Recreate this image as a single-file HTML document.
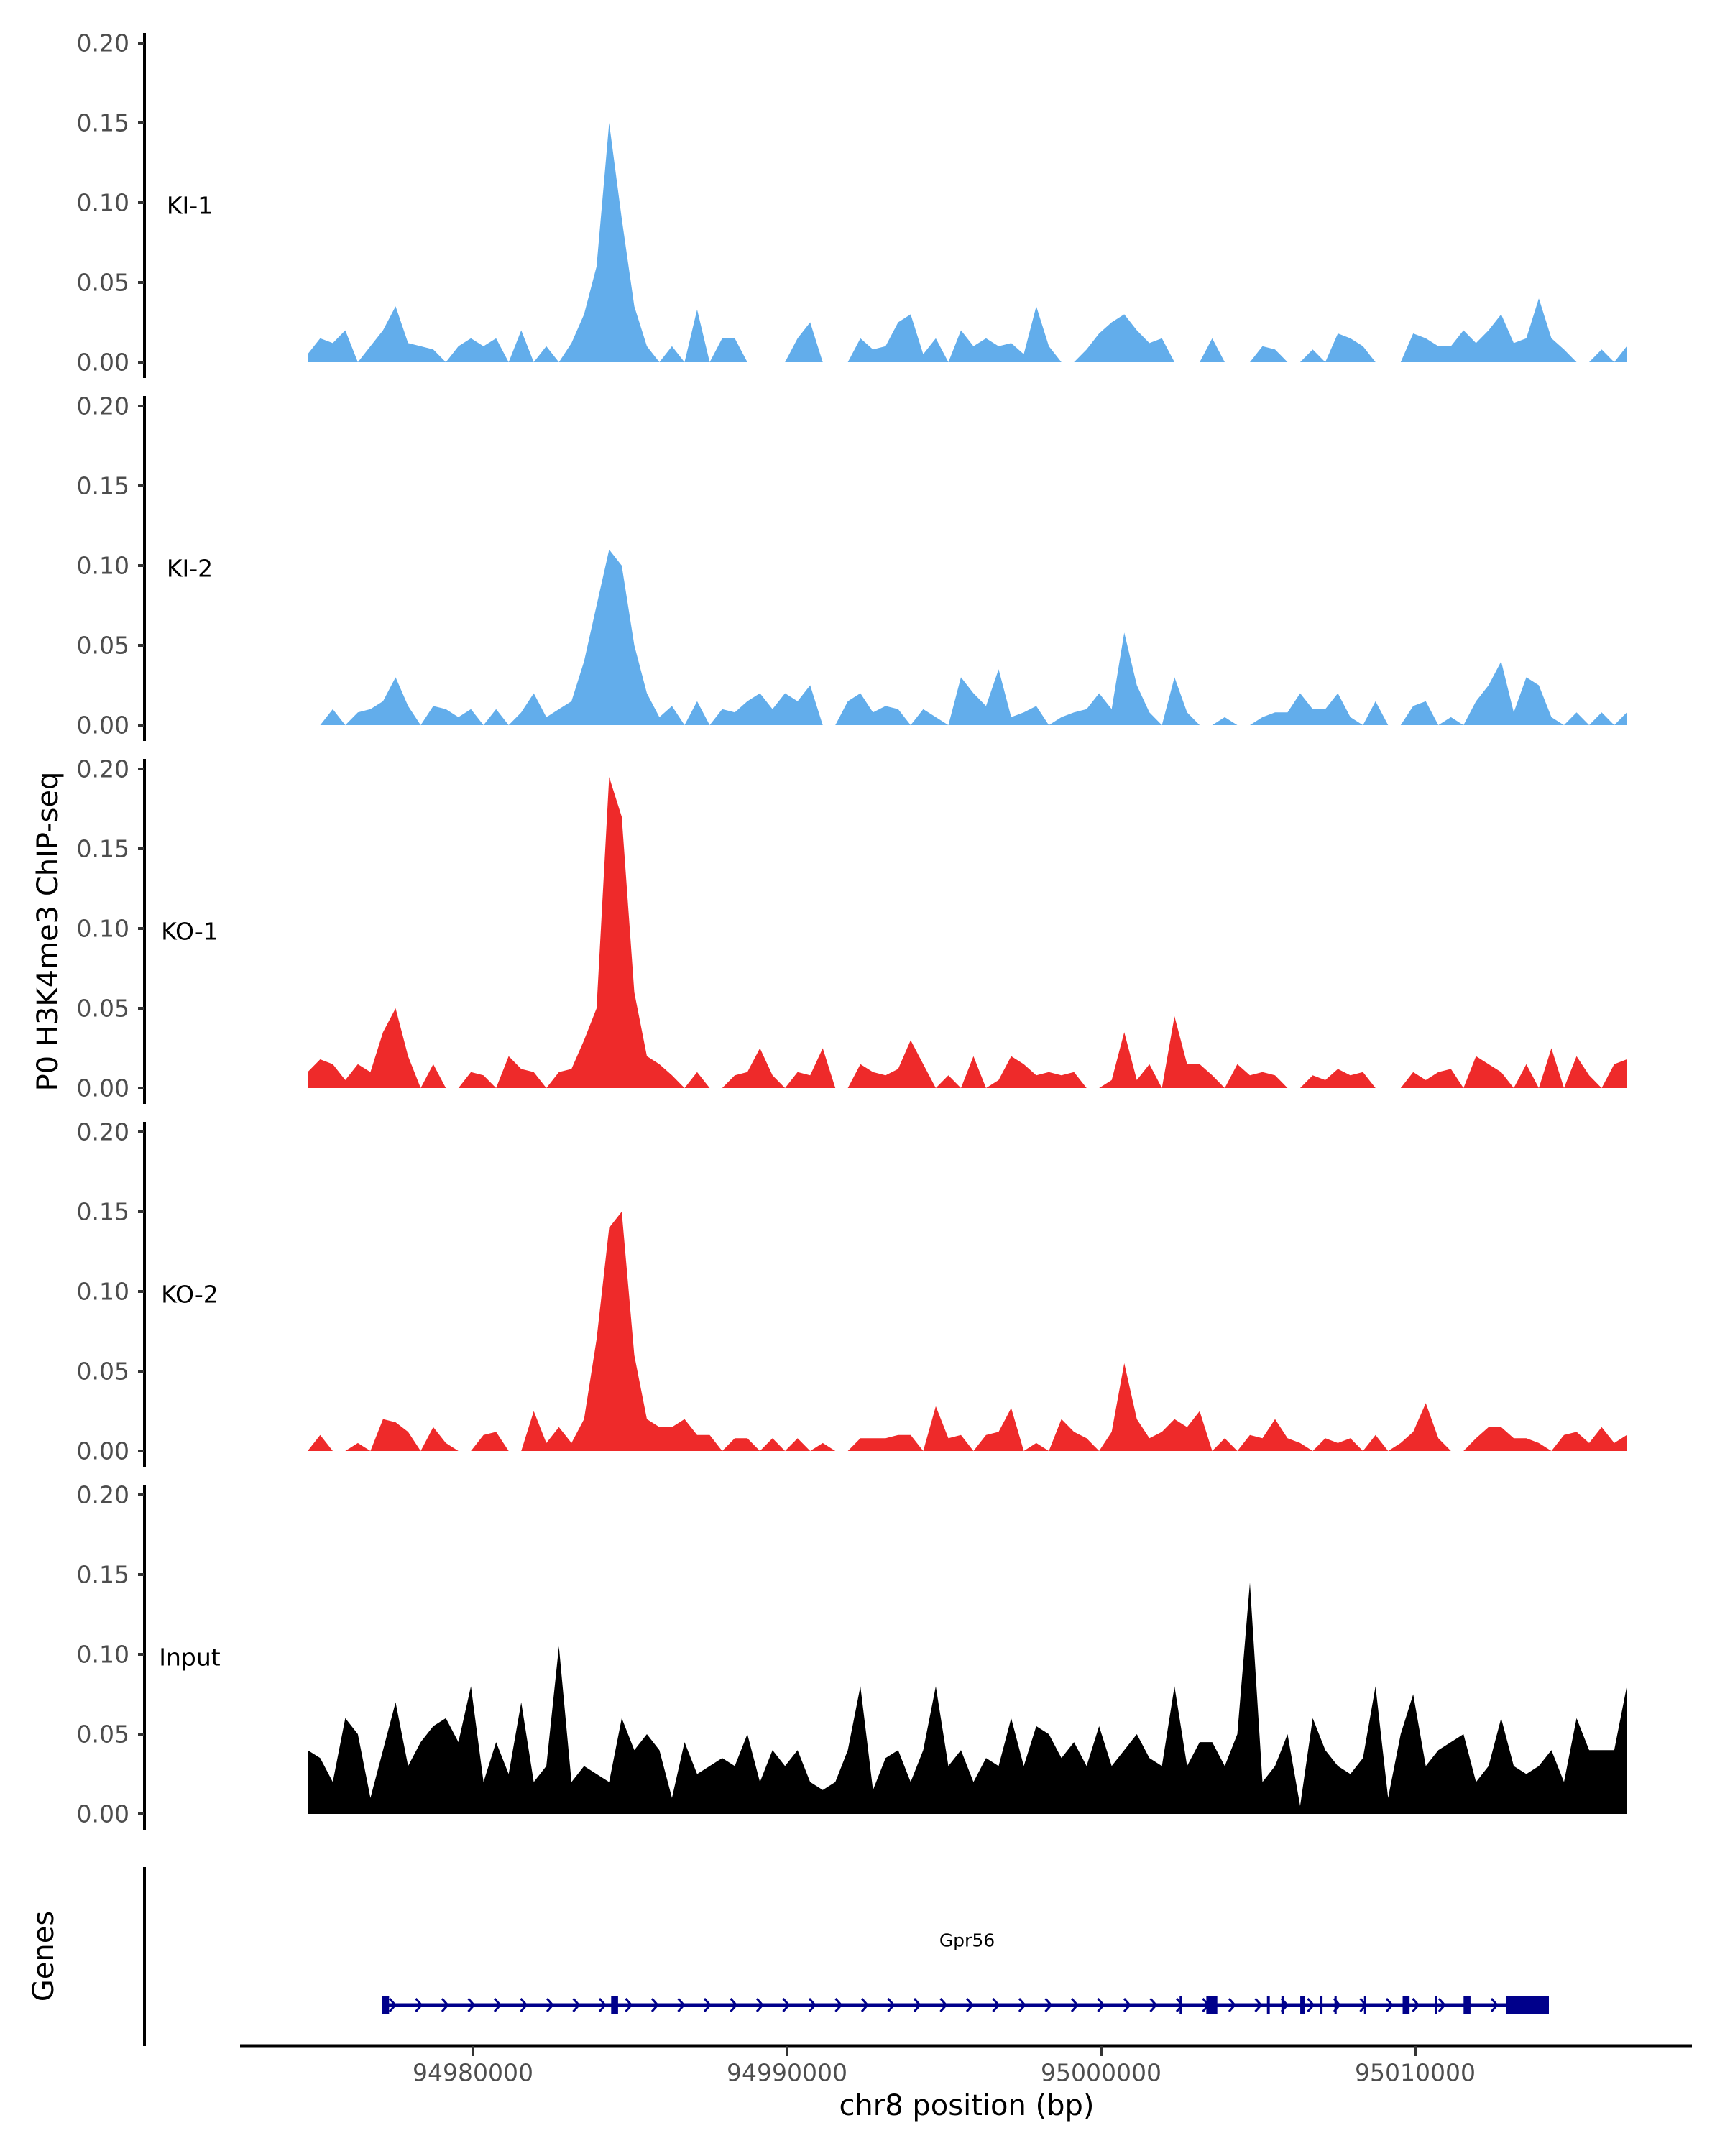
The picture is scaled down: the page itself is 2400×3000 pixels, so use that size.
<!DOCTYPE html>
<html><head><meta charset="utf-8"><style>
html,body{margin:0;padding:0;background:#fff}
svg{display:block;font-family:"DejaVu Sans","Liberation Sans",sans-serif}
</style></head><body>
<svg id="chart" width="2400" height="3000" viewBox="0 0 2400 3000" xmlns="http://www.w3.org/2000/svg">
<text x="67" y="1296" font-size="40" text-anchor="middle" dominant-baseline="central" transform="rotate(-90 67 1296)">P0 H3K4me3 ChIP-seq</text>
<text x="61" y="2722" font-size="40" text-anchor="middle" dominant-baseline="central" transform="rotate(-90 61 2722)">Genes</text>
<line x1="201" y1="2598" x2="201" y2="2847" stroke="#000" stroke-width="4"/>
<line x1="334" y1="2847" x2="2354" y2="2847" stroke="#000" stroke-width="5"/>
<text x="1345" y="2930" font-size="40" text-anchor="middle" dominant-baseline="central">chr8 position (bp)</text>
<g id="tracks"></g>
<g id="xaxis"></g>
<g id="gene"></g>
</svg>
<script>
const binStart = 94974737;
const binStep = 400;
const trackNames = ["KI-1","KI-2","KO-1","KO-2","Input"];
const trackColors = ["#62adeb","#62adeb","#ee2a2a","#ee2a2a","#000000"];
const yTicks = [0, 0.05, 0.10, 0.15, 0.20];
const yTickLabels = ["0.00","0.05","0.10","0.15","0.20"];
const xTicks = [94980000, 94990000, 95000000, 95010000];
const xTickLabels = ["94980000","94990000","95000000","95010000"];
const ki1 = [0.005,0.015,0.012,0.02,0,0.01,0.02,0.035,0.012,0.01,0.008,0,0.01,0.015,0.01,0.015,0,0.02,0,0.01,0,0.012,0.03,0.06,0.15,0.09,0.035,0.01,0,0.01,0,0.033,0,0.015,0.015,0,0,0,0,0.015,0.025,0,0,0,0.015,0.008,0.01,0.025,0.03,0.005,0.015,0,0.02,0.01,0.015,0.01,0.012,0.005,0.035,0.01,0,0,0.008,0.018,0.025,0.03,0.02,0.012,0.015,0,0,0,0.015,0,0,0,0.01,0.008,0,0,0.008,0,0.018,0.015,0.01,0,0,0,0.018,0.015,0.01,0.01,0.02,0.012,0.02,0.03,0.012,0.015,0.04,0.015,0.008,0,0,0.008,0,0.01];
const ki2 = [0,0,0.01,0,0.008,0.01,0.015,0.03,0.012,0,0.012,0.01,0.005,0.01,0,0.01,0,0.008,0.02,0.005,0.01,0.015,0.04,0.075,0.11,0.1,0.05,0.02,0.005,0.012,0,0.015,0,0.01,0.008,0.015,0.02,0.01,0.02,0.015,0.025,0,0,0.015,0.02,0.008,0.012,0.01,0,0.01,0.005,0,0.03,0.02,0.012,0.035,0.005,0.008,0.012,0,0.005,0.008,0.01,0.02,0.01,0.058,0.025,0.008,0,0.03,0.008,0,0,0.005,0,0,0.005,0.008,0.008,0.02,0.01,0.01,0.02,0.005,0,0.015,0,0,0.012,0.015,0,0.005,0,0.015,0.025,0.04,0.008,0.03,0.025,0.005,0,0.008,0,0.008,0,0.008];
const ko1 = [0.01,0.018,0.015,0.005,0.015,0.01,0.035,0.05,0.02,0,0.015,0,0,0.01,0.008,0,0.02,0.012,0.01,0,0.01,0.012,0.03,0.05,0.195,0.17,0.06,0.02,0.015,0.008,0,0.01,0,0,0.008,0.01,0.025,0.008,0,0.01,0.008,0.025,0,0,0.015,0.01,0.008,0.012,0.03,0.015,0,0.008,0,0.02,0,0.005,0.02,0.015,0.008,0.01,0.008,0.01,0,0,0.005,0.035,0.005,0.015,0,0.045,0.015,0.015,0.008,0,0.015,0.008,0.01,0.008,0,0,0.008,0.005,0.012,0.008,0.01,0,0,0,0.01,0.005,0.01,0.012,0,0.02,0.015,0.01,0,0.015,0,0.025,0,0.02,0.008,0,0.015,0.018];
const ko2 = [0,0.01,0,0,0.005,0,0.02,0.018,0.012,0,0.015,0.005,0,0,0.01,0.012,0,0,0.025,0.005,0.015,0.005,0.02,0.07,0.14,0.15,0.06,0.02,0.015,0.015,0.02,0.01,0.01,0,0.008,0.008,0,0.008,0,0.008,0,0.005,0,0,0.008,0.008,0.008,0.01,0.01,0,0.028,0.008,0.01,0,0.01,0.012,0.027,0,0.005,0,0.02,0.012,0.008,0,0.012,0.055,0.02,0.008,0.012,0.02,0.015,0.025,0,0.008,0,0.01,0.008,0.02,0.008,0.005,0,0.008,0.005,0.008,0,0.01,0,0.005,0.012,0.03,0.008,0,0,0.008,0.015,0.015,0.008,0.008,0.005,0,0.01,0.012,0.005,0.015,0.005,0.01];
const input = [0.04,0.035,0.02,0.06,0.05,0.01,0.04,0.07,0.03,0.045,0.055,0.06,0.045,0.08,0.02,0.045,0.025,0.07,0.02,0.03,0.105,0.02,0.03,0.025,0.02,0.06,0.04,0.05,0.04,0.01,0.045,0.025,0.03,0.035,0.03,0.05,0.02,0.04,0.03,0.04,0.02,0.015,0.02,0.04,0.08,0.015,0.035,0.04,0.02,0.04,0.08,0.03,0.04,0.02,0.035,0.03,0.06,0.03,0.055,0.05,0.035,0.045,0.03,0.055,0.03,0.04,0.05,0.035,0.03,0.08,0.03,0.045,0.045,0.03,0.05,0.145,0.02,0.03,0.05,0.005,0.06,0.04,0.03,0.025,0.035,0.08,0.01,0.05,0.075,0.03,0.04,0.045,0.05,0.02,0.03,0.06,0.03,0.025,0.03,0.04,0.02,0.06,0.04,0.04,0.04,0.08];
const trackValues = [ki1, ki2, ko1, ko2, input];
const geneName = "Gpr56";
const geneStart = 94977208;
const geneEnd = 95014256;
const exonStarts = [94977100,94984400,95002500,95003350,95005280,95005740,95006340,95006960,95007430,95008370,95009600,95010630,95011540,95012883];
const exonEnds =   [94977330,94984620,95002560,95003700,95005370,95005830,95006480,95007050,95007500,95008430,95009820,95010700,95011760,95014256];

const NS = "http://www.w3.org/2000/svg";
function mk(tag, attrs, parent){const e=document.createElementNS(NS,tag);for(const k in attrs)e.setAttribute(k,attrs[k]);parent.appendChild(e);return e;}
function xScale(bp){return 658 + (bp - 94980000) * 437 / 10000;}
function yScale(v, k){const y0 = 504 + 505 * k; return y0 - v * 444 / 0.2;}

const tracks = document.getElementById('tracks');
trackNames.forEach((name, k) => {
  const g = mk('g', {}, tracks);
  
  
  const axis = mk('line', {x1:201, y1:yScale(0.2,k)-14, x2:201, y2:yScale(0,k)+22, stroke:'#000','stroke-width':4}, g);
  
  
  yTicks.forEach((t, i) => {
    const y = yScale(t, k);
    const tk = mk('line', {x1:192, y1:y, x2:201, y2:y, stroke:'#333','stroke-width':4}, g);
    
    
    const tl = mk('text', {x:180, y:y, 'font-size':33, fill:'#4d4d4d', 'text-anchor':'end', 'dominant-baseline':'central'}, g);
    tl.textContent = yTickLabels[i];
    
    
  });
  const lab = mk('text', {x:264, y:yScale(0.1,k)+4, 'font-size':33, fill:'#000', 'text-anchor':'middle', 'dominant-baseline':'central'}, g);
  lab.textContent = name;
  
  
  const vals = trackValues[k];
  let d = 'M' + xScale(binStart) + ',' + yScale(0,k);
  vals.forEach((v, i) => { d += ' L' + xScale(binStart + i*binStep).toFixed(1) + ',' + yScale(v,k).toFixed(1); });
  d += ' L' + xScale(binStart + (vals.length-1)*binStep).toFixed(1) + ',' + yScale(0,k) + ' Z';
  const area = mk('path', {d:d, fill:trackColors[k]}, g);
  
  
});

const xaxis = document.getElementById('xaxis');
xTicks.forEach((t, i) => {
  const x = xScale(t);
  const tk = mk('line', {x1:x, y1:2847, x2:x, y2:2861, stroke:'#333','stroke-width':4}, xaxis);
  
  
  const tl = mk('text', {x:x, y:2884, 'font-size':33, fill:'#4d4d4d', 'text-anchor':'middle', 'dominant-baseline':'central'}, xaxis);
  tl.textContent = xTickLabels[i];
  
  
});

const gene = document.getElementById('gene');
const gy = 2790;
const gl = mk('text', {x:(xScale(geneStart)+xScale(geneEnd))/2, y:2700, 'font-size':25, fill:'#000', 'text-anchor':'middle', 'dominant-baseline':'central'}, gene);
gl.textContent = geneName;


const intr = mk('line', {x1:xScale(geneStart), y1:gy, x2:xScale(geneEnd), y2:gy, stroke:'#00008b','stroke-width':5}, gene);


for (let x = xScale(geneStart) + 10; x < xScale(geneEnd) - 10; x += 36.5) {
  const ch = mk('polyline', {points:(x-4)+','+(gy-9)+' '+(x+4)+','+gy+' '+(x-4)+','+(gy+9), fill:'none', stroke:'#00008b','stroke-width':3}, gene);
  
  
}
exonStarts.forEach((s, i) => {
  const x1 = xScale(s), x2 = xScale(exonEnds[i]);
  const r = mk('rect', {x:x1, y:gy-13, width:Math.max(3, x2-x1), height:26, fill:'#00008b'}, gene);
  
  
});
</script>
</body></html>
